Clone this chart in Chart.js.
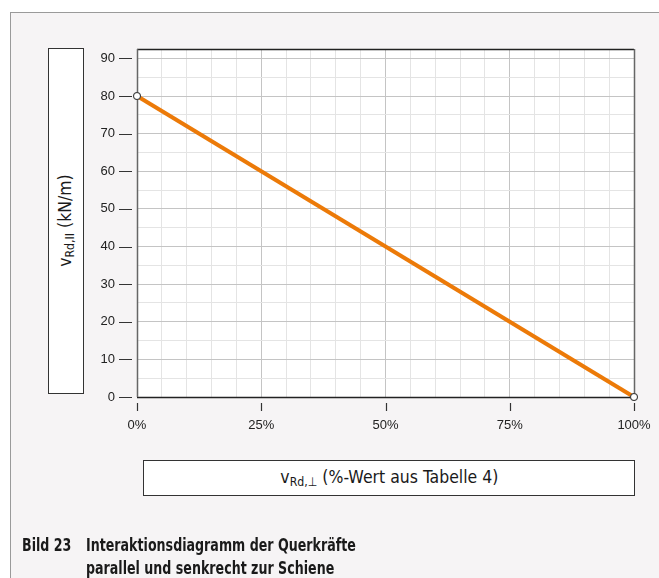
<!DOCTYPE html>
<html lang="de">
<head>
<meta charset="utf-8">
<title>Interaktionsdiagramm der Querkräfte</title>
<script src="https://cdn.jsdelivr.net/npm/chart.js@4.4.1/dist/chart.umd.min.js"></script>
<style>
  html, body { margin: 0; padding: 0; background: #fff; }
  #page { position: relative; width: 659px; height: 578px; overflow: hidden; }
  #panel {
    position: absolute; left: 10px; top: 12px; width: 660px; height: 600px;
    background: #f6f4f5; border-left: 1px solid #9a9a9a; border-top: 1px solid #9a9a9a;
  }
  canvas { position: absolute; left: 0; top: 0; }
  .cond { font-family: "DejaVu Sans Condensed", "Liberation Sans Narrow", "Roboto", sans-serif; color: #1a1a1a; }
  .box {
    position: absolute; background: #fff; border: 1px solid #333; box-sizing: border-box;
    display: flex; align-items: center; justify-content: center; font-size: 18px;
  }
  #yTitleBox { left: 48px; top: 48px; width: 36px; height: 346px; }
  #yTitleBox span { transform: rotate(-90deg) scaleX(0.97); white-space: nowrap; display: inline-block; }
  #xTitleBox { left: 143px; top: 460px; width: 492px; height: 36px; }
  #xTitleBox span { transform: scaleX(0.97); display: inline-block; white-space: nowrap; }
  sub { font-size: 70%; vertical-align: -0.25em; }
  .cap {
    position: absolute; top: 533px; font-size: 18.5px; font-weight: bold; line-height: 23px;
    transform: scaleX(0.76); transform-origin: 0 0; white-space: nowrap;
  }
  #capNum { left: 22px; }
  #capText { left: 86px; }
</style>
</head>
<body>
<div id="page">
  <div id="panel"></div>
  <canvas id="chart" width="659" height="578"></canvas>
  <div class="box cond" id="yTitleBox"><span>v<sub>Rd,II</sub> (kN/m)</span></div>
  <div class="box cond" id="xTitleBox"><span>v<sub>Rd,⊥</sub> (%-Wert aus Tabelle 4)</span></div>
  <div class="cap cond" id="capNum">Bild 23</div>
  <div class="cap cond" id="capText">Interaktionsdiagramm der Querkräfte<br>parallel und senkrecht zur Schiene</div>
</div>
<script>
// Datenpunkte (Anteil senkrecht in %, Querkraft parallel in kN/m)
const xValues = [0, 100];
const yValues = [80, 0];

// Achsen
const xTicks = [0, 5, 10, 15, 20, 25, 30, 35, 40, 45, 50, 55, 60, 65, 70, 75, 80, 85, 90, 95, 100];
const xLabelTicks = [0, 25, 50, 75, 100];
const yTicks = [0, 5, 10, 15, 20, 25, 30, 35, 40, 45, 50, 55, 60, 65, 70, 75, 80, 85, 90];
const yLabelTicks = [0, 10, 20, 30, 40, 50, 60, 70, 80, 90];

// Weißer Hintergrund, Rahmen und äußere Tickstriche
const plotFrame = {
  id: "plotFrame",
  beforeDraw(chart) {
    const { ctx, chartArea: a } = chart;
    ctx.save();
    ctx.fillStyle = "#fff";
    ctx.fillRect(a.left, a.top, a.right - a.left, a.bottom - a.top);
    ctx.restore();
  },
  afterDatasetsDraw(chart) {
    const { ctx, chartArea: a } = chart;
    const xs = chart.scales.x;
    const ys = chart.scales.y;
    ctx.save();
    ctx.lineWidth = 1.3;
    ctx.strokeStyle = "#222";
    ctx.beginPath();
    ctx.moveTo(a.left, a.top + 0.5);
    ctx.lineTo(a.right, a.top + 0.5);
    ctx.moveTo(a.left, a.bottom + 0.5);
    ctx.lineTo(a.right, a.bottom + 0.5);
    ctx.stroke();
    ctx.strokeStyle = "#666";
    ctx.lineWidth = 1.5;
    ctx.beginPath();
    ctx.moveTo(a.left + 0.5, a.top);
    ctx.lineTo(a.left + 0.5, a.bottom);
    ctx.moveTo(a.right + 0.5, a.top);
    ctx.lineTo(a.right + 0.5, a.bottom);
    ctx.stroke();
    ctx.strokeStyle = "#333";
    ctx.lineWidth = 1.2;
    ctx.beginPath();
    yLabelTicks.forEach(v => {
      const y = Math.round(ys.getPixelForValue(v)) + 0.5;
      ctx.moveTo(a.left - 18, y);
      ctx.lineTo(a.left - 5, y);
    });
    xLabelTicks.forEach(v => {
      const x = Math.round(xs.getPixelForValue(v)) + 0.5;
      ctx.moveTo(x, a.bottom + 6);
      ctx.lineTo(x, a.bottom + 14);
    });
    ctx.stroke();
    // Datenpunkte über dem Rahmen
    chart.getDatasetMeta(0).data.forEach(p => p.draw(ctx, a));
    ctx.restore();
  }
};

// eslint-disable-next-line no-undef
new Chart(document.getElementById("chart"), {
  type: "scatter",
  data: {
    datasets: [{
      data: xValues.map((x, i) => ({ x: x, y: yValues[i] })),
      showLine: true,
      borderColor: "#ec7a08",
      borderWidth: 4,
      pointRadius: 3.5,
      pointBackgroundColor: "#fff",
      pointBorderColor: "#333",
      pointBorderWidth: 1,
      clip: false
    }]
  },
  options: {
    responsive: false,
    animation: false,
    layout: { padding: { left: 97, top: 49, right: 25, bottom: 141 } },
    plugins: { legend: { display: false }, tooltip: { enabled: false } },
    scales: {
      x: {
        type: "linear",
        min: 0,
        max: 100,
        afterBuildTicks: scale => { scale.ticks = xTicks.map(v => ({ value: v })); },
        afterFit: scale => { scale.height = 40; },
        border: { display: false },
        grid: {
          drawTicks: true,
          tickLength: 21,
          tickColor: "rgba(0,0,0,0)",
          color: ctx => (ctx.tick && ctx.tick.value % 25 === 0 ? "#c4c4c4" : "#e4e4e4")
        },
        ticks: {
          padding: 0,
          maxRotation: 0,
          autoSkip: false,
          color: "#222",
          font: { family: "'Liberation Sans', Arial, sans-serif", size: 13 },
          callback: v => (v % 25 === 0 ? v + "%" : "")
        }
      },
      y: {
        type: "linear",
        min: 0,
        max: 92.5,
        afterBuildTicks: scale => { scale.ticks = yTicks.map(v => ({ value: v })); },
        afterFit: scale => { scale.width = 40; },
        border: { display: false },
        grid: {
          drawTicks: false,
          color: ctx => (ctx.tick && ctx.tick.value % 10 === 0 ? "#c4c4c4" : "#e4e4e4")
        },
        ticks: {
          padding: 22,
          autoSkip: false,
          color: "#222",
          font: { family: "'Liberation Sans', Arial, sans-serif", size: 13 },
          callback: v => (v % 10 === 0 ? String(v) : "")
        }
      }
    }
  },
  plugins: [plotFrame]
});
</script>
</body>
</html>
